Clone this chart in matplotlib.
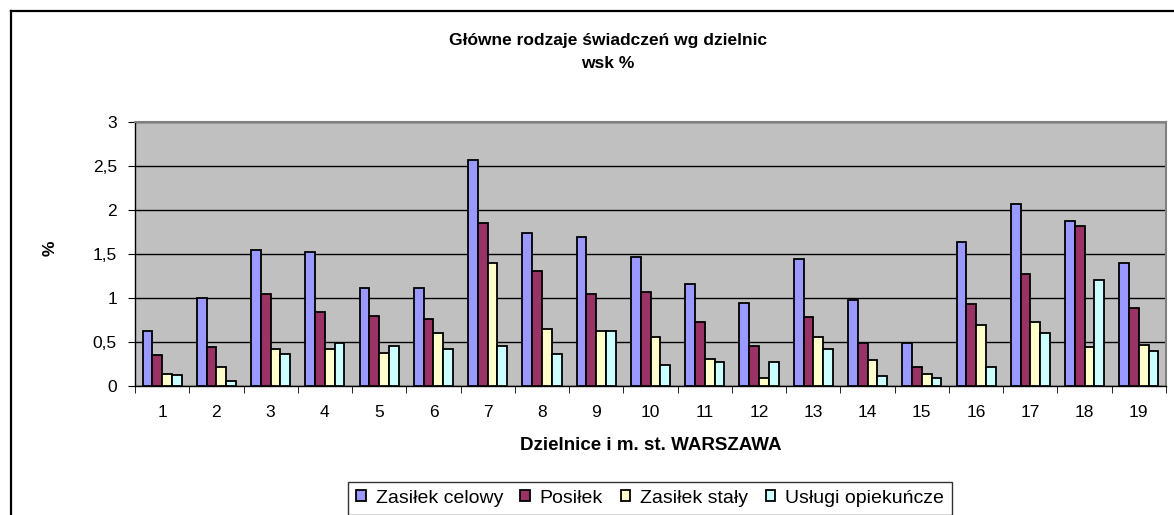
import matplotlib
matplotlib.use("Agg")
import numpy as np
import matplotlib.pyplot as plt
from matplotlib.lines import Line2D

plt.rcParams['font.family'] = ['Liberation Sans', 'DejaVu Sans']

# data
districts = [str(i) for i in range(1, 20)]
zasilek_celowy = [0.63, 1.00, 1.54, 1.52, 1.11, 1.11, 2.57, 1.74, 1.69, 1.47,
                  1.16, 0.94, 1.44, 0.98, 0.49, 1.64, 2.07, 1.87, 1.40]
posilek = [0.35, 0.44, 1.05, 0.84, 0.80, 0.76, 1.85, 1.31, 1.04, 1.07,
           0.73, 0.45, 0.78, 0.49, 0.22, 0.93, 1.27, 1.82, 0.89]
zasilek_staly = [0.14, 0.22, 0.42, 0.42, 0.38, 0.60, 1.40, 0.65, 0.62, 0.56,
                 0.31, 0.09, 0.56, 0.29, 0.14, 0.69, 0.73, 0.44, 0.47]
uslugi = [0.13, 0.06, 0.36, 0.49, 0.46, 0.42, 0.46, 0.36, 0.62, 0.24,
          0.27, 0.27, 0.42, 0.11, 0.09, 0.22, 0.60, 1.20, 0.40]
series_names = ['Zasiłek celowy', 'Posiłek', 'Zasiłek stały', 'Usługi opiekuńcze']
yticks = [0, 0.5, 1, 1.5, 2, 2.5, 3]
ytick_labels = ['0', '0,5', '1', '1,5', '2', '2,5', '3']

colors = ['#9999FF', '#993366', '#FFFFCC', '#CCFFFF']
series = [zasilek_celowy, posilek, zasilek_staly, uslugi]

W, H = 1174, 515
fig = plt.figure(figsize=(W / 100, H / 100), dpi=100)
fig.patch.set_facecolor('white')

# outer chart frame (only top and left visible in the crop)
fig.add_artist(Line2D([11 / W, 11 / W], [0, 1 - 11 / H], transform=fig.transFigure,
                      color='black', lw=1.6))
fig.add_artist(Line2D([11 / W, 1], [1 - 11 / H, 1 - 11 / H], transform=fig.transFigure,
                      color='black', lw=1.6))

ax = fig.add_axes([135 / W, 1 - 386 / H, (1166 - 135) / W, (386 - 122) / H])
ax.set_facecolor('#C0C0C0')

x = np.arange(len(districts))
bw = 0.18
for k, (vals, c, name) in enumerate(zip(series, colors, series_names)):
    ax.bar(x + (k - 1.5) * bw, vals, bw, color=c, edgecolor='black',
           linewidth=1.3, label=name, zorder=3)

ax.set_xlim(-0.5, len(districts) - 0.5)
ax.set_ylim(0, 3)
ax.set_yticks(yticks)
ax.set_yticklabels(ytick_labels, fontsize=12.5)
ax.yaxis.grid(True, color='black', lw=1)
ax.set_axisbelow(True)

ax.set_xticks(x)
ax.set_xticklabels(districts, fontsize=12.5)
ax.set_xticks(np.arange(-0.5, len(districts), 1), minor=True)
ax.tick_params(axis='x', which='major', length=0, pad=14)
ax.tick_params(axis='x', which='minor', length=5, direction='out', color='black')
ax.tick_params(axis='y', length=5, direction='out', pad=8)

for s in ['top', 'right']:
    ax.spines[s].set_color('#808080')
    ax.spines[s].set_linewidth(1.5)
for s in ['left', 'bottom']:
    ax.spines[s].set_color('black')
    ax.spines[s].set_linewidth(1)

fig.text(608 / W, 1 - 41 / H, 'Główne rodzaje świadczeń wg dzielnic', ha='center',
         va='center', fontsize=12.5, fontweight='bold')
fig.text(608 / W, 1 - 64 / H, 'wsk %', ha='center', va='center', fontsize=12.5,
         fontweight='bold')
fig.text(50 / W, 1 - 248 / H, '%', ha='center', va='center', rotation=90,
         fontsize=12.5, fontweight='bold')
fig.text(651 / W, 1 - 445 / H, 'Dzielnice i m. st. WARSZAWA', ha='center',
         va='center', fontsize=13.5, fontweight='bold')

leg = fig.legend(loc='upper center', bbox_to_anchor=(650 / W, 1 - 482 / H), ncol=4,
                 fontsize=14, frameon=True, fancybox=False, edgecolor='black',
                 handlelength=0.5, handleheight=0.5, handletextpad=0.5,
                 columnspacing=0.9, borderpad=0.4, borderaxespad=0)
leg.get_frame().set_linewidth(1)

fig.savefig('out.png', dpi=100)
